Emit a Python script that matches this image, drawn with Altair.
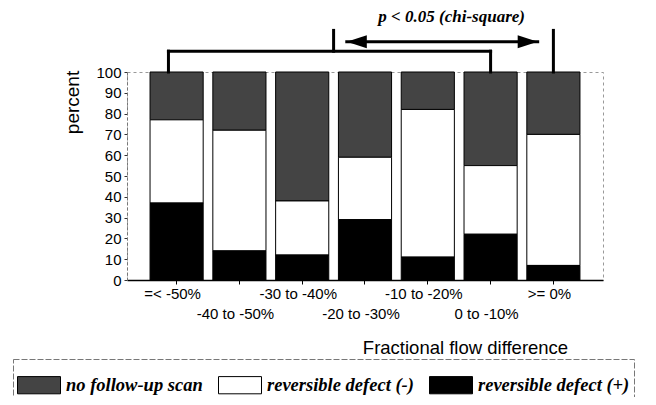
import json
import altair as alt
import pandas as pd

categories = ["=< -50%", "-40 to -50%", "-30 to -40%", "-20 to -30%",
              "-10 to -20%", "0 to -10%", ">= 0%"]
rev_plus = [37, 14, 12, 29, 11, 22, 7]      # reversible defect (+), black, bottom
rev_minus = [40, 58, 26, 30, 71, 33, 63]    # reversible defect (-), white, middle
no_scan = [23, 28, 62, 41, 18, 45, 30]      # no follow-up scan, textured, top

statuses = ["no follow-up scan", "reversible defect (-)", "reversible defect (+)"]
status_colors = ["#444444", "#ffffff", "#000000"]
stack_rank = {"reversible defect (+)": 0, "reversible defect (-)": 1, "no follow-up scan": 2}

rows = []
for i, c in enumerate(categories):
    for s, v in zip(statuses, [no_scan[i], rev_minus[i], rev_plus[i]]):
        rows.append({"cat": c, "status": s, "pct": v, "ord": stack_rank[s]})
df = pd.DataFrame(rows)

# annotation (significance bracket) in category units: 0 = centre of first bar
seg_x = [-0.13, -0.13, 5.0, 2.5, 6.0, 2.71]
seg_x2 = [5.0, -0.13, 5.0, 2.5, 6.0, 5.75]
seg_y = [110, 110, 110, 120, 120, 114.5]
seg_y2 = [110, 100, 100, 110, 100, 114.5]
seg_df = pd.DataFrame({"x": seg_x, "x2": seg_x2, "y": seg_y, "y2": seg_y2})

head_df = pd.DataFrame({"x": [2.71, 5.75], "y": [114.5, 114.5], "dir": ["left", "right"]})
note_df = pd.DataFrame({"x": [4.38], "y": [126.5], "text": ["p < 0.05 (chi-square)"]})

second_row = categories[1::2]
label_expr = (f"indexof({json.dumps(second_row)}, datum.label) >= 0 "
              "? ['', datum.label] : datum.label")

yscale = alt.Scale(domain=[0, 100], nice=False, zero=True)
ann_x = alt.Scale(domain=[-0.79, 6.79], nice=False, zero=False)

bars = alt.Chart(df).mark_bar(stroke="black", strokeWidth=1).encode(
    x=alt.X("cat:N", sort=categories,
            scale=alt.Scale(paddingInner=0.154, paddingOuter=0.367),
            axis=alt.Axis(title="Fractional flow difference", labelAngle=0,
                          labelExpr=label_expr, labelLineHeight=20,
                          labelOverlap=False, labelOffset=-4, labelPadding=2,
                          labelFont="Liberation Sans", labelFontSize=15,
                          labelColor="black", domainColor="black", domainWidth=1.5,
                          tickColor="black", tickSize=4,
                          titleFont="Liberation Sans", titleFontSize=18.5,
                          titleFontWeight="normal", titleColor="black",
                          titleX=338, titleY=67, titleAlign="center",
                          titleBaseline="middle")),
    y=alt.Y("pct:Q", stack="zero", scale=yscale,
            axis=alt.Axis(title="percent", values=list(range(0, 101, 10)),
                          grid=False, labelFont="Liberation Sans", labelFontSize=15,
                          labelColor="black", labelPadding=3, tickSize=3,
                          tickColor="#333", domainColor="#777", domainDash=[3, 2],
                          titleFont="Liberation Sans", titleFontSize=19,
                          titleFontWeight="normal", titleColor="black",
                          titleAngle=-90, titleX=-55, titleY=30,
                          titleAlign="center", titleBaseline="middle")),
    fill=alt.Fill("status:N", scale=alt.Scale(domain=statuses, range=status_colors),
                  legend=alt.Legend(title=None, orient="none", direction="horizontal",
                                    columns=3, legendX=-114, legendY=287,
                                    symbolType="M-1,-0.4H1V0.4H-1Z", symbolSize=1849,
                                    symbolStrokeColor="black", symbolStrokeWidth=1,
                                    symbolOpacity=1,
                                    labelFont="Liberation Serif", labelFontSize=18.5,
                                    labelFontStyle="italic", labelFontWeight="bold",
                                    labelColor="black", labelLimit=300, labelOffset=5,
                                    columnPadding=13, padding=4,
                                    strokeColor="#777")),
    order=alt.Order("ord:Q", sort="ascending"),
)

lines = alt.Chart(seg_df).mark_rule(strokeWidth=3, color="black", strokeCap="square").encode(
    x=alt.X("x:Q", scale=ann_x, axis=None),
    x2="x2:Q",
    y=alt.Y("y:Q", scale=yscale, axis=None),
    y2="y2:Q",
)

heads = alt.Chart(head_df).mark_point(filled=True, color="black", opacity=1, size=400).encode(
    x=alt.X("x:Q", scale=ann_x, axis=None),
    y=alt.Y("y:Q", scale=yscale, axis=None),
    shape=alt.Shape("dir:N", scale=alt.Scale(domain=["left", "right"],
                                             range=["M0,0L2,-0.65L2,0.65Z", "M0,0L-2,-0.65L-2,0.65Z"]),
                    legend=None),
)

note = alt.Chart(note_df).mark_text(font="Liberation Serif", fontSize=17, fontStyle="italic",
                                    fontWeight="bold", color="black", align="center",
                                    baseline="middle").encode(
    x=alt.X("x:Q", scale=ann_x, axis=None),
    y=alt.Y("y:Q", scale=yscale, axis=None),
    text="text:N",
)

chart = alt.layer(bars, lines, heads, note).resolve_scale(x="independent").resolve_axis(
    x="independent", y="independent"
).properties(
    width=476, height=208,
    padding={"left": 119, "top": 64, "right": 45, "bottom": 117},
    autosize=alt.AutoSizeParams(type="none"),
).configure_view(stroke="#999", strokeDash=[3, 3], strokeWidth=1
).configure_legend(strokeDash=[6, 2])

chart.save("out.html", embed_options={"renderer": "svg", "actions": False})
